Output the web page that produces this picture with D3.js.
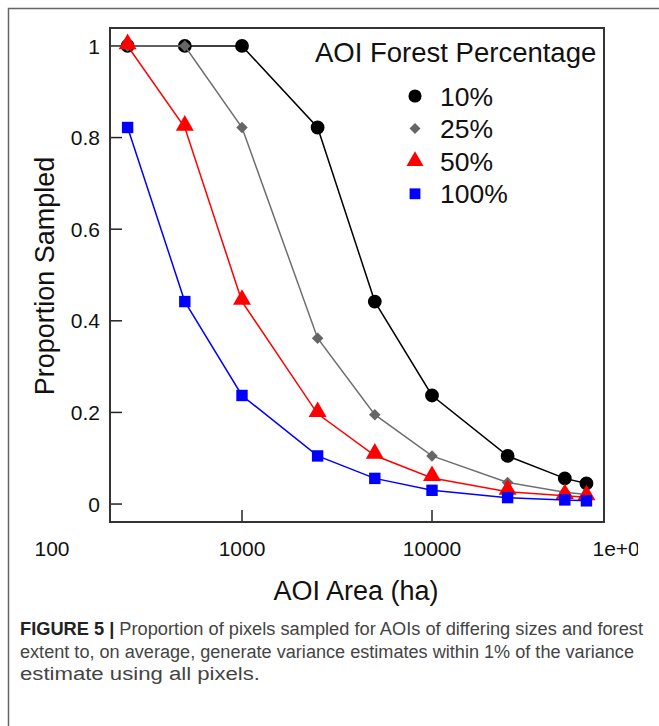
<!DOCTYPE html>
<html>
<head>
<meta charset="utf-8">
<script src="https://cdn.jsdelivr.net/npm/d3@7"></script>
<style>
  body { margin: 0; background: #fff; }
  svg { display: block; font-family: "Liberation Sans", Arial, sans-serif; }
</style>
</head>
<body>
<div id="chart"></div>
<script>

// AOI areas (ha)
var areas = [250, 500, 1000, 2500, 5000, 10000, 25000, 50000, 65000];

// proportion sampled by forest percentage
var pct10  = [1, 1, 1, 0.822, 0.442, 0.237, 0.105, 0.056, 0.045];
var pct25  = [1, 1, 0.822, 0.362, 0.195, 0.105, 0.047, 0.026, 0.021];
var pct50  = [1, 0.822, 0.442, 0.197, 0.106, 0.057, 0.027, 0.018, 0.015];
var pct100 = [0.822, 0.442, 0.237, 0.105, 0.056, 0.030, 0.014, 0.009, 0.007];

var seriesLabels = ['10%', '25%', '50%', '100%'];
var yTicks = [0, 0.2, 0.4, 0.6, 0.8, 1];
var xTicks = [100, 1000, 10000, 100000];
var xTickLabels = ['100', '1000', '10000', '1e+05'];

function drawChart(containerId){

    var W = 659, H = 726;
    var plot = {left: 110, top: 28, right: 604, bottom: 522};

    var svg = d3.select('#' + containerId).append('svg')
        .attr('width', W)
        .attr('height', H);

    // outer figure frame
    svg.append('path')
        .attr('d', 'M8.5,' + (H + 2) + ' L8.5,8.5 L' + (W + 2) + ',8.5')
        .attr('fill', 'none')
        .attr('stroke', '#666')
        .attr('stroke-width', 1.5);

    var x = d3.scaleLog()
        .domain([Math.pow(10, (plot.left - 52) / 190 + 2), Math.pow(10, (plot.right - 52) / 190 + 2)])
        .range([plot.left, plot.right]);

    var y = d3.scaleLinear()
        .domain([-0.0392, 1.0392])
        .range([plot.bottom, plot.top]);

    var series = [
        {label: seriesLabels[0], values: pct10,  color: '#000000', line: '#000000', shape: d3.symbolCircle,   size: 150},
        {label: seriesLabels[1], values: pct25,  color: '#666666', line: '#6e6e6e', shape: d3.symbolDiamond2, size: 85},
        {label: seriesLabels[2], values: pct50,  color: '#ff0000', line: '#ff0000', shape: d3.symbolTriangle, size: 140},
        {label: seriesLabels[3], values: pct100, color: '#0000ff', line: '#0000ff', shape: d3.symbolSquare,   size: 130}
    ];

    // y axis ticks (inward) and labels
    svg.append('g').selectAll('line')
        .data(yTicks)
        .join('line')
        .attr('x1', plot.left).attr('x2', plot.left + 12)
        .attr('y1', d => y(d)).attr('y2', d => y(d))
        .attr('stroke', '#222').attr('stroke-width', 1.5);

    svg.append('g').selectAll('text')
        .data(yTicks)
        .join('text')
        .attr('x', plot.left - 10)
        .attr('y', d => y(d))
        .attr('dy', '0.36em')
        .attr('text-anchor', 'end')
        .attr('font-size', 21)
        .attr('fill', '#111')
        .text(d => d3.format('~g')(d));

    // x axis ticks (inward, only inside plot) and labels
    svg.append('g').selectAll('line')
        .data(xTicks.filter(d => x(d) > plot.left && x(d) < plot.right))
        .join('line')
        .attr('x1', d => x(d)).attr('x2', d => x(d))
        .attr('y1', plot.bottom).attr('y2', plot.bottom - 12)
        .attr('stroke', '#222').attr('stroke-width', 1.5);

    svg.append('clipPath').attr('id', 'figclip')
        .append('rect').attr('x', 0).attr('y', 0).attr('width', 638).attr('height', H);

    svg.append('g')
        .attr('clip-path', 'url(#figclip)')
        .selectAll('text')
        .data(xTicks)
        .join('text')
        .attr('x', d => x(d))
        .attr('y', 556)
        .attr('text-anchor', 'middle')
        .attr('font-size', 21)
        .attr('fill', '#111')
        .text((d, i) => xTickLabels[i]);

    // axis titles
    svg.append('text')
        .attr('transform', 'translate(54,276) rotate(-90)')
        .attr('text-anchor', 'middle')
        .attr('font-size', 27)
        .attr('fill', '#111')
        .text('Proportion Sampled');

    svg.append('text')
        .attr('x', 356)
        .attr('y', 600)
        .attr('text-anchor', 'middle')
        .attr('font-size', 27)
        .attr('fill', '#111')
        .text('AOI Area (ha)');

    var line = d3.line()
        .x((d, i) => x(areas[i]))
        .y(d => y(d));

    series.forEach(function(s){
        var g = svg.append('g');
        g.append('path')
            .attr('d', line(s.values))
            .attr('fill', 'none')
            .attr('stroke', s.line)
            .attr('stroke-width', 1.5);
        g.selectAll('path.pt')
            .data(s.values)
            .join('path')
            .attr('class', 'pt')
            .attr('transform', (d, i) => 'translate(' + x(areas[i]) + ',' + (y(d) + (s.shape === d3.symbolTriangle ? -2 : 0)) + ')')
            .attr('d', d3.symbol().type(s.shape).size(s.size))
            .attr('fill', s.color);
    });

    // plot frame
    svg.append('rect')
        .attr('x', plot.left).attr('y', plot.top)
        .attr('width', plot.right - plot.left)
        .attr('height', plot.bottom - plot.top)
        .attr('fill', 'none')
        .attr('stroke', '#333')
        .attr('stroke-width', 2);

    // legend
    svg.append('text')
        .attr('x', 315).attr('y', 62)
        .attr('font-size', 27.5)
        .attr('fill', '#111')
        .text('AOI Forest Percentage');

    var legend = svg.append('g').selectAll('g')
        .data(series)
        .join('g')
        .attr('transform', (d, i) => 'translate(415,' + (96 + i * 32.6) + ')');

    legend.append('path')
        .attr('d', d => d3.symbol().type(d.shape).size(d.size * 0.9)())
        .attr('fill', d => d.color);

    legend.append('text')
        .attr('x', 25)
        .attr('dy', '0.36em')
        .attr('font-size', 26.5)
        .attr('fill', '#111')
        .text(d => d.label);

    // caption
    var caption = svg.append('text')
        .attr('font-size', 18)
        .attr('fill', '#444');

    caption.append('tspan')
        .attr('x', 20).attr('y', 635)
        .attr('textLength', 623).attr('lengthAdjust', 'spacingAndGlyphs')
        .html('<tspan font-weight="bold" fill="#222">FIGURE 5 |</tspan> Proportion of pixels sampled for AOIs of differing sizes and forest');

    caption.append('tspan')
        .attr('x', 20).attr('y', 657.5)
        .attr('textLength', 614).attr('lengthAdjust', 'spacingAndGlyphs')
        .text('extent to, on average, generate variance estimates within 1% of the variance');

    caption.append('tspan')
        .attr('x', 20).attr('y', 680)
        .attr('textLength', 240).attr('lengthAdjust', 'spacingAndGlyphs')
        .text('estimate using all pixels.');
}

drawChart('chart');

</script>
</body>
</html>
